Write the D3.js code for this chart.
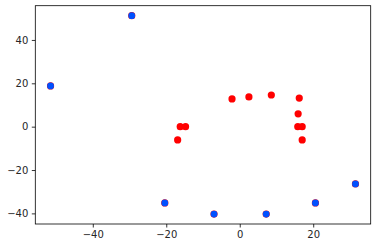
<!DOCTYPE html>
<html>
<head>
<meta charset="utf-8">
<script src="https://cdn.jsdelivr.net/npm/d3@7"></script>
<style>
  body { margin: 0; background: #fff; }
  svg { display: block; }
</style>
</head>
<body>
<div id="chart"></div>
<script>
// all points (red), drawn first
var redX = [-16.2, -14.75, -16.9, -2.1, 2.5, 8.6, 16.2, 15.9, 15.8, 17.0, 17.0,
             -51.5, -29.4, -20.4, -7.0, 7.2, 20.6, 31.5];
var redY = [0, 0, -6.1, 12.8, 13.7, 14.6, 13.2, 5.9, 0, 0, -6.1,
             18.8, 51.2, -35.2, -40.3, -40.3, -35.2, -26.4];
// outer points (blue), drawn on top
var blueX = [-51.5, -29.4, -20.4, -7.0, 7.2, 20.6, 31.5];
var blueY = [18.8, 51.2, -35.2, -40.3, -40.3, -35.2, -26.4];

var xTicks = [-40, -20, 0, 20];
var yTicks = [-40, -20, 0, 20, 40];

var width = 377,
    height = 248,
    margin = {top: 5.7, right: 6.3, bottom: 24, left: 35.3};

var svg = d3.select('#chart')
    .append('svg')
    .attr('width', width)
    .attr('height', height);

var x = d3.scaleLinear()
    .domain([-55.65, 35.65])
    .range([margin.left, width - margin.right]);
var y = d3.scaleLinear()
    .domain([-44.9, 55.8])
    .range([height - margin.bottom, margin.top]);

function fmt(d) {
    return d < 0 ? '\u2212' + Math.abs(d) : String(d);
}

var xAxis = svg.append('g')
    .attr('transform', 'translate(0,' + (height - margin.bottom) + ')')
    .call(d3.axisBottom(x).tickValues(xTicks).tickFormat(fmt)
        .tickSize(3.5).tickPadding(3.5));
var yAxis = svg.append('g')
    .attr('transform', 'translate(' + margin.left + ',0)')
    .call(d3.axisLeft(y).tickValues(yTicks).tickFormat(fmt)
        .tickSize(3.5).tickPadding(3.5));

[xAxis, yAxis].forEach(function (a) {
    a.select('.domain').remove();
    a.selectAll('line').attr('stroke', '#000').attr('stroke-width', 0.8);
    a.selectAll('text')
        .attr('fill', '#262626')
        .style('font-family', 'DejaVu Sans')
        .style('font-size', '10px');
});

// frame
svg.append('rect')
    .attr('x', margin.left)
    .attr('y', margin.top)
    .attr('width', width - margin.left - margin.right)
    .attr('height', height - margin.top - margin.bottom)
    .attr('fill', 'none')
    .attr('stroke', '#000')
    .attr('stroke-width', 0.8);

svg.append('g').selectAll('circle')
    .data(d3.range(redX.length))
    .enter().append('circle')
    .attr('cx', function (i) { return x(redX[i]); })
    .attr('cy', function (i) { return y(redY[i]); })
    .attr('r', 3.6)
    .attr('fill', '#ff0000');

svg.append('g').selectAll('circle')
    .data(d3.range(blueX.length))
    .enter().append('circle')
    .attr('cx', function (i) { return x(blueX[i]); })
    .attr('cy', function (i) { return y(blueY[i]); })
    .attr('r', 3.4)
    .attr('fill', '#0050ff');
</script>
</body>
</html>
